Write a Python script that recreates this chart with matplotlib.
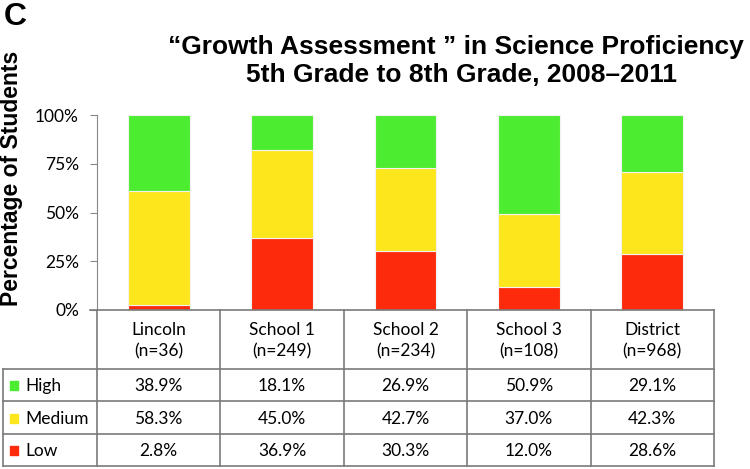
import matplotlib.pyplot as plt
import numpy as np

schools = ["Lincoln", "School 1", "School 2", "School 3", "District"]
n_students = [36, 249, 234, 108, 968]
levels = ["High", "Medium", "Low"]
high = [38.9, 18.1, 26.9, 50.9, 29.1]
medium = [58.3, 45.0, 42.7, 37.0, 42.3]
low = [2.8, 36.9, 30.3, 12.0, 28.6]
yticks = [0, 25, 50, 75, 100]

colors = {"High": "#4cec30", "Medium": "#fde61c", "Low": "#fd2a0c"}
values = {"High": high, "Medium": medium, "Low": low}

head_font = ["Liberation Sans", "DejaVu Sans"]
body_font = ["Lato", "DejaVu Sans"]

W, H = 750, 469
fig = plt.figure(figsize=(7.5, 4.69), dpi=100)

# Plotbereich in Pixeln, damit die Tabelle darunter genau anschliesst
x_left, x_right = 97, 714
y_top, y_zero = 115, 310
ax = fig.add_axes([x_left / W, 1 - y_zero / H, (x_right - x_left) / W, (y_zero - y_top) / H])

x = np.arange(len(schools))
bottom = np.zeros(len(schools))
for lvl in ["Low", "Medium", "High"]:
    ax.bar(x, values[lvl], width=0.5, bottom=bottom, color=colors[lvl],
           edgecolor="#f2f2f2", linewidth=0.8, zorder=2)
    bottom += np.array(values[lvl])

ax.set_xlim(-0.5, len(schools) - 0.5)
ax.set_ylim(0, 100)
ax.set_yticks(yticks)
ax.set_yticklabels([f"{t}%" for t in yticks], family=body_font, fontsize=12.5)
ax.set_xticks([])
for side in ["top", "right", "bottom"]:
    ax.spines[side].set_visible(False)
ax.spines["left"].set_color("#888888")
ax.tick_params(axis="y", length=5, color="#888888", pad=8)
ax.patch.set_alpha(0)

# Tabelle darunter
tab = fig.add_axes([0, 0, 1, 1])
tab.set_xlim(0, W)
tab.set_ylim(H, 0)
tab.axis("off")
tab.patch.set_alpha(0)

line_kw = dict(color="#7a7a7a", linewidth=1.2)
col_w = (x_right - x_left) / len(schools)
col_edges = [x_left + i * col_w for i in range(len(schools) + 1)]
row_edges = [369, 401, 434, 466]
x_leg = 3

tab.plot([x_left - 7, x_right], [y_zero, y_zero], **line_kw)
for xe in col_edges:
    tab.plot([xe, xe], [y_zero, row_edges[-1]], **line_kw)
tab.plot([x_leg, x_leg], [row_edges[0], row_edges[-1]], **line_kw)
for ye in row_edges:
    tab.plot([x_leg, x_right], [ye, ye], **line_kw)

for i, (s, n) in enumerate(zip(schools, n_students)):
    cx = (col_edges[i] + col_edges[i + 1]) / 2
    tab.text(cx, 341, f"{s}\n(n={n})", ha="center", va="center",
             family=body_font, fontsize=12.5, linespacing=1.4)

for r, lvl in enumerate(levels):
    cy = (row_edges[r] + row_edges[r + 1]) / 2 + 1
    tab.add_patch(plt.Rectangle((10, cy - 4.5), 8, 9, color=colors[lvl]))
    tab.text(25, cy, lvl, ha="left", va="center", family=body_font, fontsize=12.5)
    for i, v in enumerate(values[lvl]):
        cx = (col_edges[i] + col_edges[i + 1]) / 2
        tab.text(cx, cy, f"{v:.1f}%", ha="center", va="center",
                 family=body_font, fontsize=12.5)

# Titel und Beschriftungen
fig.text(456 / W, 1 - 47 / H, "\u201cGrowth Assessment \u201d in Science Proficiency",
         ha="center", va="center", family=head_font, weight="bold", fontsize=19)
fig.text(462 / W, 1 - 75 / H, "5th Grade to 8th Grade, 2008\u20132011",
         ha="center", va="center", family=head_font, weight="bold", fontsize=19)
fig.text(4 / W, 1 - 17 / H, "C", ha="left", va="center", family=head_font,
         weight="bold", fontsize=23)
fig.text(12 / W, 1 - 178 / H, "Percentage of Students", ha="center", va="center",
         rotation=90, family=head_font, weight="bold", fontsize=16.5)

fig.savefig("out.png", dpi=100)
